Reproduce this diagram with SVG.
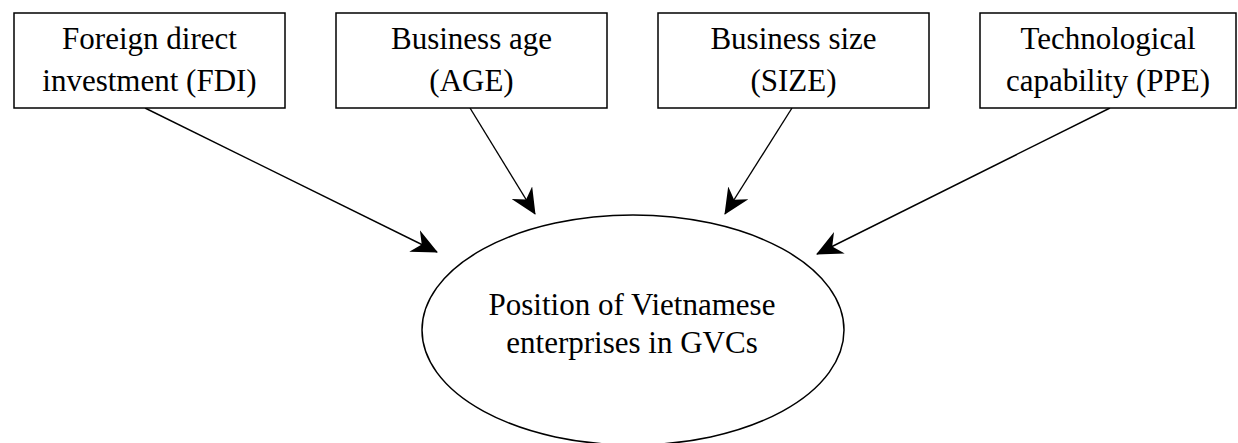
<svg xmlns="http://www.w3.org/2000/svg" width="1238" height="443" viewBox="0 0 1238 443">
<style>
.box{fill:#fff;stroke:#000;stroke-width:1.5}
.lbl{font-family:"Liberation Serif","Times New Roman",serif;font-size:31px;fill:#000;text-anchor:middle}
.conn{stroke:#000;stroke-width:1.4;fill:none;marker-end:url(#ah)}
</style>
<defs>
<marker id="ah" viewBox="0 0 26 24" refX="25" refY="12" markerWidth="26" markerHeight="24" markerUnits="userSpaceOnUse" orient="auto">
<path d="M0,0 L26,12 L0,24 L8,12 Z" fill="#000"/>
</marker>
</defs>
<rect width="1238" height="443" fill="#fff"/>
<g id="connectors">
<line class="conn" x1="145" y1="108" x2="437" y2="252"/>
<line class="conn" x1="470" y1="108" x2="535" y2="214"/>
<line class="conn" x1="792" y1="108" x2="725" y2="214"/>
<line class="conn" x1="1110" y1="108" x2="817" y2="254"/>
</g>
<g id="fdi">
<rect class="box" x="14" y="13" width="271" height="95"/>
<text class="lbl" x="149.5" y="49">Foreign direct</text>
<text class="lbl" x="149.5" y="91">investment (FDI)</text>
</g>
<g id="age">
<rect class="box" x="336" y="13" width="271" height="95"/>
<text class="lbl" x="471.5" y="49">Business age</text>
<text class="lbl" x="471.5" y="91">(AGE)</text>
</g>
<g id="size">
<rect class="box" x="658" y="13" width="271" height="95"/>
<text class="lbl" x="793.5" y="49">Business size</text>
<text class="lbl" x="793.5" y="91">(SIZE)</text>
</g>
<g id="ppe">
<rect class="box" x="980" y="13" width="256" height="95"/>
<text class="lbl" x="1108" y="49">Technological</text>
<text class="lbl" x="1108" y="91">capability (PPE)</text>
</g>
<g id="gvc">
<ellipse class="box" cx="633" cy="330" rx="211" ry="115"/>
<text class="lbl" x="632" y="315">Position of Vietnamese</text>
<text class="lbl" x="632" y="353">enterprises in GVCs</text>
</g>
</svg>
